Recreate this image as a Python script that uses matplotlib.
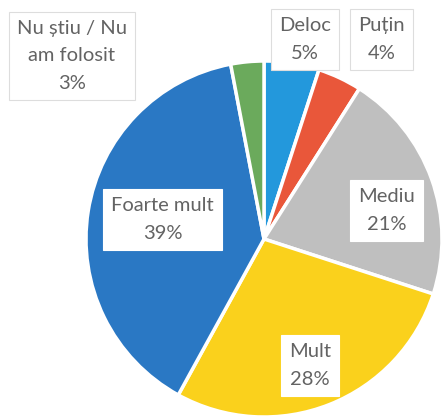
import matplotlib as mpl
mpl.use('Agg')
import matplotlib.pyplot as plt

# data
labels = ['Deloc', 'Puțin', 'Mediu', 'Mult', 'Foarte mult', 'Nu știu / Nu\nam folosit']
values = [5, 4, 21, 28, 39, 3]
colors = ['#2398DC', '#E9573A', '#BFBFBF', '#FAD11C', '#2A78C4', '#6BAA5C']

# label positions (data coords, pie radius = 1) and whether the box has a border
label_pos = [(0.23, 1.12), (0.66, 1.12), (0.69, 0.16), (0.26, -0.71), (-0.57, 0.11), (-1.08, 1.03)]
label_border = [True, True, False, False, False, True]

plt.rcParams['font.family'] = ['Lato', 'DejaVu Sans']

fig = plt.figure(figsize=(4.45, 4.19), dpi=100)
W, H = 445.0, 419.0
cx, cy, r = 264.0, 239.0, 178.0
ax = fig.add_axes([(cx - r) / W, (H - cy - r) / H, 2 * r / W, 2 * r / H])

ax.pie(values, colors=colors, startangle=90, counterclock=False, radius=1,
       wedgeprops=dict(edgecolor='white', linewidth=2.5))
ax.set_xlim(-1, 1)
ax.set_ylim(-1, 1)
ax.set_aspect('equal')
ax.axis('off')

for lab, v, (x, y), border in zip(labels, values, label_pos, label_border):
    ax.text(x, y, '%s\n%d%%' % (lab, v), ha='center', va='center', fontsize=14.5,
            color='#636363', linespacing=1.75, clip_on=False,
            bbox=dict(boxstyle='square,pad=0.4', facecolor='white',
                      edgecolor='#DDDDDD' if border else 'white', linewidth=0.8))

fig.savefig('out.png', dpi=100)
